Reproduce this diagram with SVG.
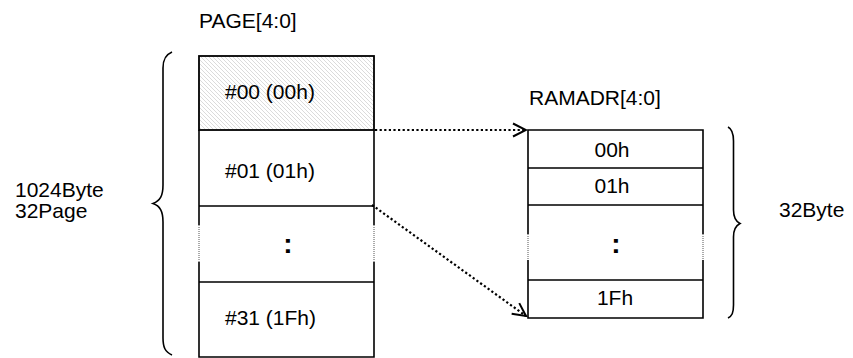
<svg xmlns="http://www.w3.org/2000/svg" width="853" height="358" viewBox="0 0 853 358">
<style>
text{font-family:"Liberation Sans",Arial,sans-serif;font-size:21px;fill:#000}
.b{fill:none;stroke:#000;stroke-width:1.6}
.d{fill:none;stroke:#555;stroke-width:1;stroke-dasharray:1 1}
.c{fill:none;stroke:#000;stroke-width:2.2;stroke-dasharray:2.2 2.4}
.br{fill:none;stroke:#000;stroke-width:1.6}
.col{font-weight:bold;font-size:28px}
.m{text-anchor:middle}
</style>
<defs>
<pattern id="hatch" patternUnits="userSpaceOnUse" width="4" height="4">
<path d="M0,0 L4,4 M-1,3 L1,5 M3,-1 L5,1" stroke="#d2d2d2" stroke-width="0.8"/>
</pattern>
<marker id="arr" markerUnits="userSpaceOnUse" viewBox="0 0 16 16" markerWidth="16" markerHeight="16" refX="14" refY="8" orient="auto">
<path d="M1,1.5 L14,8 L1,14.5" fill="none" stroke="#000" stroke-width="2"/>
</marker>
</defs>
<text x="199" y="28">PAGE[4:0]</text>
<text x="15" y="197">1024Byte</text>
<text x="15" y="218">32Page</text>
<text x="779" y="217">32Byte</text>
<text x="529" y="105">RAMADR[4:0]</text>
<g id="page-array">
<rect x="199" y="56" width="175" height="74" fill="url(#hatch)" stroke="#000" stroke-width="1.8"/>
<path class="b" d="M199,130 V225 M199,262 V357 H374 V262 M374,225 V130 M199,206 H374 M199,282 H374"/>
<path class="d" d="M199,225 V262 M374,225 V262"/>
<text x="225" y="99">#00 (00h)</text>
<text x="225" y="178">#01 (01h)</text>
<text class="col m" x="288" y="253">:</text>
<text x="225" y="325">#31 (1Fh)</text>
</g>
<g id="ram-array">
<path class="b" d="M528,234 V130 H703 V234 M528,260 V318 H703 V260 M528,168 H703 M528,205 H703 M528,280 H703"/>
<path class="d" d="M528,234 V260 M703,234 V260"/>
<text class="m" x="612" y="157">00h</text>
<text class="m" x="612" y="193">01h</text>
<text class="col m" x="616" y="253">:</text>
<text class="m" x="615" y="305">1Fh</text>
</g>
<g id="brace-left">
<path class="br" d="M172,52 C165,55 163,60 163,68 V185 C163,196 160,201 153,203.5 C160,206 163,211 163,222 V338 C163,347 165,352 172,355"/>
</g>
<g id="brace-right">
<path class="br" d="M728,127 C732,129 733.5,133 733.5,141 V210 C733.5,217 735,221 740,223.5 C735,226 733.5,230 733.5,237 V305 C733.5,313 732,316 728,318"/>
</g>
<g id="connectors">
<path class="c" d="M375,130 H526" marker-end="url(#arr)"/>
<path class="c" d="M372,205 L526,316" marker-end="url(#arr)"/>
</g>
</svg>
